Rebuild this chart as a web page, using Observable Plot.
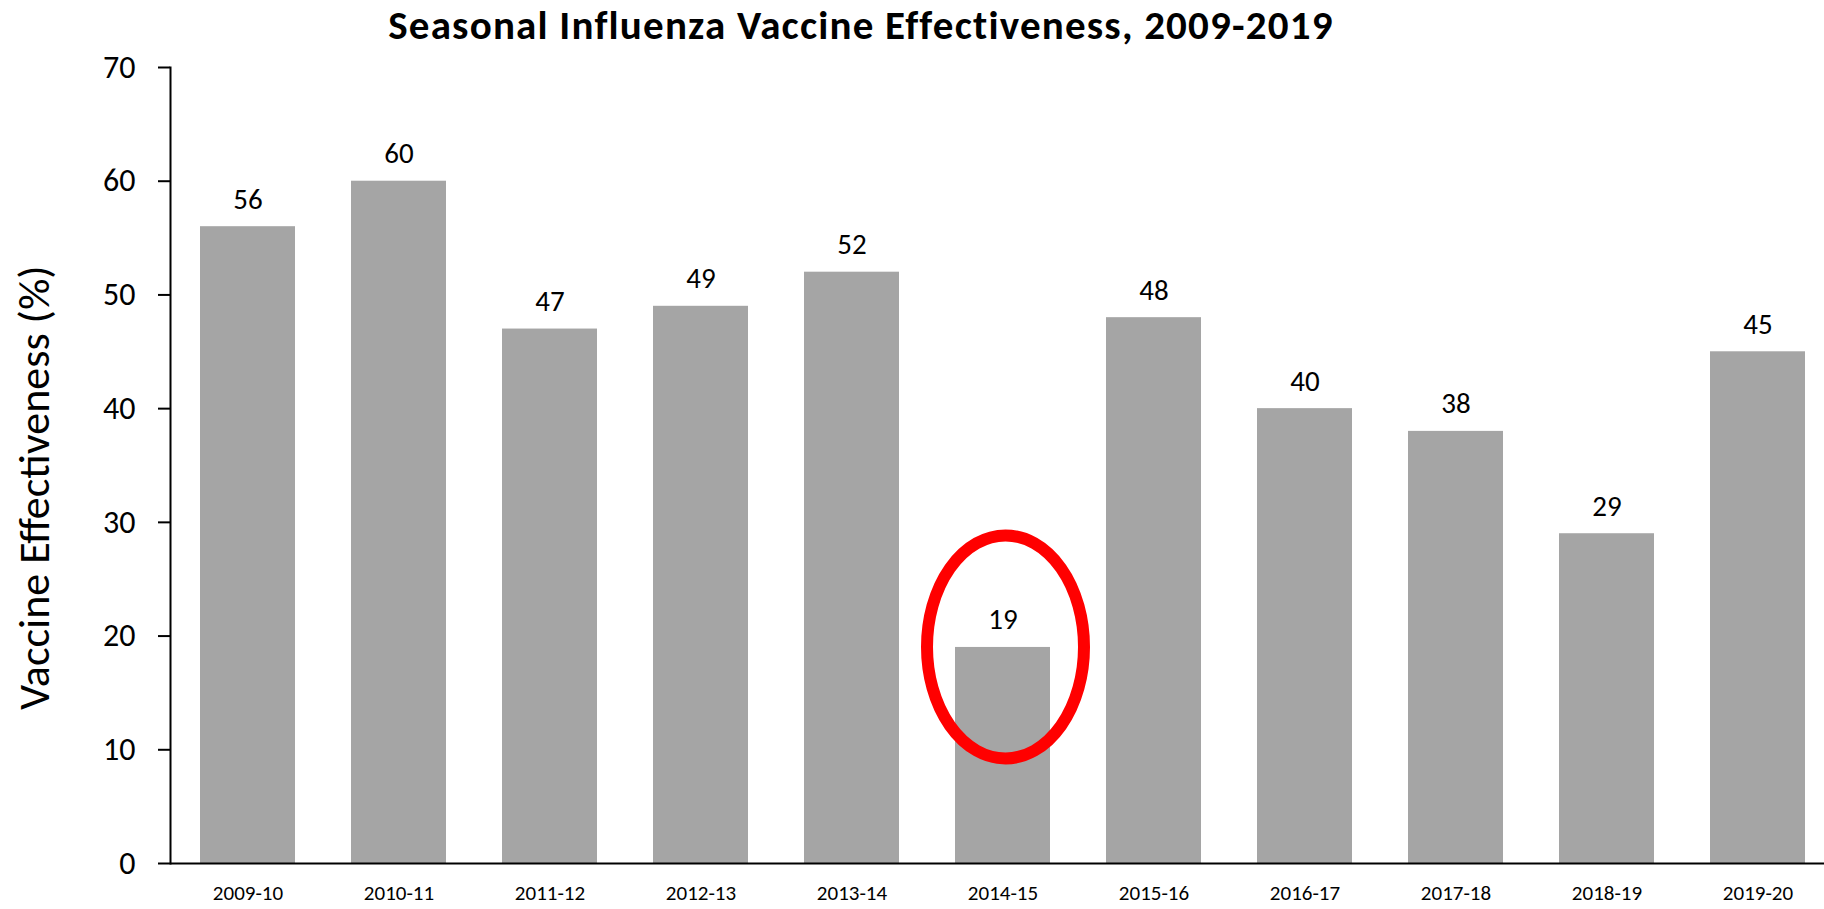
<!DOCTYPE html>
<html>
<head>
<meta charset="utf-8">
<script src="https://cdn.jsdelivr.net/npm/d3@7"></script>
<script src="https://cdn.jsdelivr.net/npm/@observablehq/plot@0.6"></script>
<style>
  html, body { margin: 0; padding: 0; background: #fff; }
  #wrap { position: relative; width: 1824px; height: 909px; overflow: hidden; font-family: Carlito, Lato, "Open Sans", sans-serif; }
  #title { position: absolute; left: 0; top: 0; width: 1722px; text-align: center; font-size: 41px; letter-spacing: 1.2px; font-weight: 900; color: #000; white-space: nowrap; }
  svg { display: block; }
</style>
</head>
<body>
<div id="wrap">
  <div id="chart"></div>
  <div id="title">Seasonal Influenza Vaccine Effectiveness, 2009-2019</div>
</div>
<script>
// Flu seasons and the vaccine effectiveness estimate for each (%)
const seasons = ["2009-10", "2010-11", "2011-12", "2012-13", "2013-14", "2014-15", "2015-16", "2016-17", "2017-18", "2018-19", "2019-20"];
const effectiveness = [56, 60, 47, 49, 52, 19, 48, 40, 38, 29, 45];
const yTicks = [0, 10, 20, 30, 40, 50, 60, 70];
const yLabel = "Vaccine Effectiveness (%)";
const highlighted = "2014-15";

const rows = seasons.map((season, i) => ({season, ve: effectiveness[i]}));
const font = "Carlito, Lato, 'Open Sans', sans-serif";

const plot = Plot.plot({
  width: 1824,
  height: 909,
  marginLeft: 170,
  marginRight: 0,
  marginTop: 67,
  marginBottom: 46,
  style: {fontFamily: font, color: "#000", background: "#fff", overflow: "visible"},
  x: {domain: seasons, range: [170, 1835], paddingInner: 0.3725, paddingOuter: 0.185},
  y: {domain: [0, 70]},
  marks: [
    Plot.barY(rows, {x: "season", y: "ve", fill: "#a5a5a5"}),
    Plot.text(rows, {x: "season", y: "ve", text: d => String(d.ve), lineAnchor: "bottom", dy: -18, fontSize: 29, fill: "#000"}),
    Plot.ruleY([0], {stroke: "#000", strokeWidth: 2}),
    Plot.frame({anchor: "left", stroke: "#000", strokeWidth: 2}),
    Plot.axisY({ticks: yTicks, tickSize: 12, tickPadding: 23, fontSize: 32, label: null, stroke: "#000", strokeWidth: 2, strokeOpacity: 1}),
    Plot.axisX({tickSize: 0, tickPadding: 22, fontSize: 21, label: null}),
    Plot.text([yLabel], {frameAnchor: "left", textAnchor: "middle", rotate: -90, dx: -136, dy: 22, fontSize: 44, fill: "#000"})
  ]
});
document.getElementById("chart").appendChild(plot);

// Red ellipse drawn around the highlighted season, centred on its value
const xs = plot.scale("x"), ys = plot.scale("y");
const hv = effectiveness[seasons.indexOf(highlighted)];
d3.select(plot).append("ellipse")
  .attr("cx", xs.apply(highlighted) + xs.bandwidth / 2 + 3)
  .attr("cy", ys.apply(hv))
  .attr("rx", 78.5)
  .attr("ry", 111.5)
  .attr("fill", "none")
  .attr("stroke", "#ff0000")
  .attr("stroke-width", 12);
</script>
</body>
</html>
